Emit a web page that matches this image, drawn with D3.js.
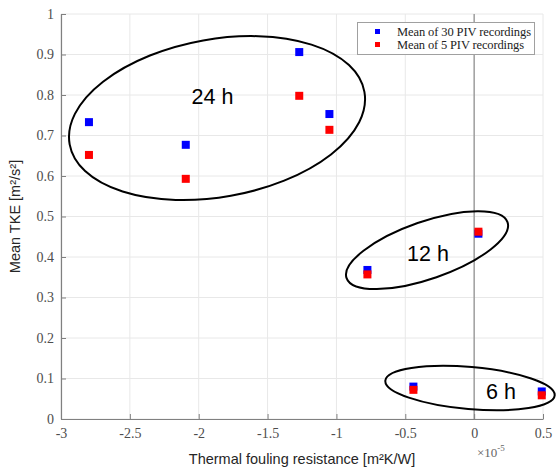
<!DOCTYPE html>
<html><head><meta charset="utf-8">
<script src="https://cdn.jsdelivr.net/npm/d3@7"></script>
<style>body{margin:0;background:#fff}svg{display:block}</style>
</head><body>
<script>
// Data
const foulingX = [-2.797, -2.094, -1.27, -1.051, -0.775, 0.031, -0.441, 0.491];
const tke30 = [0.733, 0.677, 0.906, 0.753, 0.368, 0.4575, 0.080, 0.068];
const tke5  = [0.652, 0.593, 0.798, 0.714, 0.357, 0.4625, 0.072, 0.0585];
const seriesNames = ["Mean of 30 PIV recordings", "Mean of 5 PIV recordings"];
const xTicks = [-3, -2.5, -2, -1.5, -1, -0.5, 0, 0.5];
const xTickLabels = ["-3", "-2.5", "-2", "-1.5", "-1", "-0.5", "0", "0.5"];
const yTicks = [0, 0.1, 0.2, 0.3, 0.4, 0.5, 0.6, 0.7, 0.8, 0.9, 1];
const yTickLabels = ["0", "0.1", "0.2", "0.3", "0.4", "0.5", "0.6", "0.7", "0.8", "0.9", "1"];
const groupLabels = ["24 h", "12 h", "6 h"];
const groupCenters = [[-1.867, 0.743], [-0.342, 0.417], [-0.03, 0.0765]];
const groupLabelPos = [[-1.90, 0.778], [-0.335, 0.390], [0.195, 0.049]];

// layout (pixels)
const W = 559, H = 470;
const ellipseShape = [{rx: 149.7, ry: 78.9, rot: -10.1}, {rx: 85.2, ry: 28.7, rot: -19.2}, {rx: 85, ry: 21, rot: 5}];
const colors = ["#0000ff", "#ff0000"];
const legendTextLen = [134, 127];

const svg = d3.select("body").append("svg").attr("width", W).attr("height", H);
const x = d3.scaleLinear().domain([-3, 0.5]).range([61, 543]);
const y = d3.scaleLinear().domain([0, 1]).range([419, 14]);

// gridlines
svg.append("g").selectAll("line.gx").data(xTicks).join("line")
  .attr("x1", d => x(d)).attr("x2", d => x(d)).attr("y1", y(0)).attr("y2", y(1))
  .attr("stroke", "#e8e8e8").attr("stroke-width", 1);
svg.append("g").selectAll("line.gy").data(yTicks).join("line")
  .attr("y1", d => y(d)).attr("y2", d => y(d)).attr("x1", x(-3)).attr("x2", x(0.5))
  .attr("stroke", "#e8e8e8").attr("stroke-width", 1);

// zero line
svg.append("line").attr("x1", x(0)).attr("x2", x(0)).attr("y1", y(0)).attr("y2", y(1))
  .attr("stroke", "#8c8c8c").attr("stroke-width", 1.2);

// axes
const tickFont = "'Liberation Serif', 'DejaVu Serif', serif";
const xAxis = d3.axisBottom(x).tickValues(xTicks).tickFormat((d, i) => xTickLabels[i]).tickSizeInner(-5).tickSizeOuter(0).tickPadding(9);
const yAxis = d3.axisLeft(y).tickValues(yTicks).tickFormat((d, i) => yTickLabels[i]).tickSizeInner(-5).tickSizeOuter(0).tickPadding(7);
const gx = svg.append("g").attr("transform", `translate(0,${y(0)})`).call(xAxis);
const gy = svg.append("g").attr("transform", `translate(${x(-3)},0)`).call(yAxis);
[gx, gy].forEach(g => {
  g.select(".domain").attr("stroke", "#808080").attr("stroke-width", 1.2);
  g.selectAll(".tick line").attr("stroke", "#808080");
  g.selectAll(".tick text").attr("font-family", tickFont).attr("font-size", 14).attr("fill", "#4d4d4d");
});

// ×10^-5
const exp = svg.append("text").attr("x", 477).attr("y", 457)
  .attr("font-family", tickFont).attr("font-size", 13).attr("fill", "#666");
exp.append("tspan").text("×10");
exp.append("tspan").attr("dy", -6).attr("font-size", 9).text("-5");

// axis titles
svg.append("text").attr("x", (x(-3) + x(0.5)) / 2).attr("y", 464).attr("text-anchor", "middle")
  .attr("font-family", "'Liberation Sans', Arial, sans-serif").attr("font-size", 14.5).attr("fill", "#262626")
  .text("Thermal fouling resistance [m²K/W]");
svg.append("text").attr("transform", `translate(20,${(y(0) + y(1)) / 2}) rotate(-90)`).attr("text-anchor", "middle")
  .attr("font-family", "'Liberation Sans', Arial, sans-serif").attr("font-size", 14.5).attr("fill", "#262626")
  .text("Mean TKE [m²/s²]");

// points
const ms = 8;
[tke30, tke5].forEach((vals, si) => {
  svg.append("g").selectAll("rect").data(vals).join("rect")
    .attr("x", (d, i) => x(foulingX[i]) - ms / 2).attr("y", d => y(d) - ms / 2)
    .attr("width", ms).attr("height", ms).attr("fill", colors[si]);
});

// ellipses
groupCenters.forEach((c, i) => {
  const e = ellipseShape[i];
  svg.append("ellipse").attr("cx", 0).attr("cy", 0).attr("rx", e.rx).attr("ry", e.ry)
    .attr("transform", `translate(${x(c[0])},${y(c[1])}) rotate(${e.rot})`)
    .attr("fill", "none").attr("stroke", "#000").attr("stroke-width", 2);
});
groupLabels.forEach((t, i) => {
  svg.append("text").attr("x", x(groupLabelPos[i][0])).attr("y", y(groupLabelPos[i][1]))
    .attr("text-anchor", "middle").attr("font-family", "'Liberation Sans', Arial, sans-serif")
    .attr("font-size", 21.5).attr("fill", "#000").text(t);
});

// legend
const lg = svg.append("g");
lg.append("rect").attr("x", 357.5).attr("y", 22.5).attr("width", 177).attr("height", 32)
  .attr("fill", "#fff").attr("stroke", "#a0a0a0").attr("stroke-width", 1);
seriesNames.forEach((n, i) => {
  lg.append("rect").attr("x", 375).attr("y", 29 + i * 13).attr("width", 5).attr("height", 5).attr("fill", colors[i]);
  lg.append("text").attr("x", 397).attr("y", 36 + i * 13).attr("font-family", tickFont)
    .attr("font-size", 12.5).attr("textLength", legendTextLen[i]).attr("lengthAdjust", "spacing")
    .attr("fill", "#222").text(n);
});
</script>
</body></html>
